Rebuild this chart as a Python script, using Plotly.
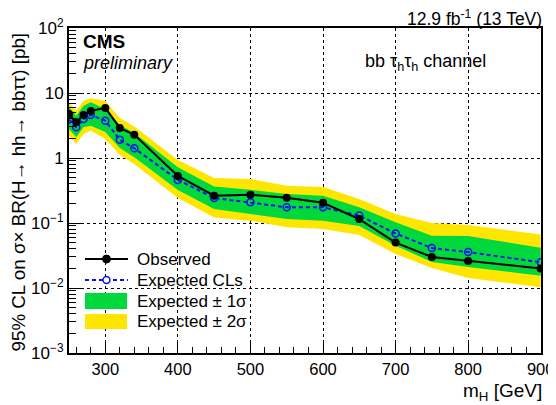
import plotly.graph_objects as go

# ---------------- data ----------------
mass = [250, 260, 270, 280, 300, 320, 340, 400, 450, 500, 550, 600, 650, 700, 750, 800, 900]
observed = [4.75, 3.54, 4.6, 5.3, 5.9, 2.9, 2.28, 0.53, 0.263, 0.273, 0.245, 0.205, 0.115,
            0.050, 0.030, 0.026, 0.020]
expected = [3.9, 2.97, 3.98, 4.59, 3.75, 1.91, 1.41, 0.46, 0.243, 0.208, 0.174, 0.174, 0.13,
            0.069, 0.0412, 0.0358, 0.0248]
exp_plus1 = [6.03, 4.48, 6.38, 7.19, 5.67, 3.22, 2.42, 0.72, 0.364, 0.325, 0.279, 0.263, 0.1745,
             0.1025, 0.0638, 0.0631, 0.0417]
exp_plus2 = [7.19, 5.34, 7.61, 8.28, 7.61, 4.12, 3.05, 0.93, 0.492, 0.475, 0.375, 0.358, 0.234,
             0.1375, 0.100, 0.0931, 0.0665]
exp_minus1 = [2.79, 2.08, 2.97, 3.14, 2.51, 1.43, 1.025, 0.322, 0.164, 0.1375, 0.115, 0.1084,
              0.0897, 0.0448, 0.0251, 0.021, 0.01546]
exp_minus2 = [2.20, 1.64, 2.34, 2.63, 1.96, 1.11, 0.81, 0.242, 0.1215, 0.1084, 0.0859, 0.0809,
              0.0654, 0.0334, 0.0203, 0.01425, 0.01025]

x_ticks = [300, 400, 500, 600, 700, 800, 900]
y_ticks = [1e-3, 1e-2, 1e-1, 1, 10, 100]
y_ticktext = ["10<sup>\u22123</sup>", "10<sup>\u22122</sup>", "10<sup>\u22121</sup>", "1", "10",
              "10<sup>2</sup>"]

legend_labels = ["Observed", "Expected CLs", "Expected \u00b1 1\u03c3", "Expected \u00b1 2\u03c3"]

GREEN = "#00d83c"
YELLOW = "#ffe600"
BLUE = "#1010f0"
FONT = "Liberation Sans"

fig = go.Figure()

# 2 sigma band
fig.add_trace(go.Scatter(x=mass + mass[::-1], y=exp_plus2 + exp_minus2[::-1], fill="toself",
                         fillcolor=YELLOW, line=dict(width=0), mode="lines",
                         hoverinfo="skip", showlegend=False))
# 1 sigma band
fig.add_trace(go.Scatter(x=mass + mass[::-1], y=exp_plus1 + exp_minus1[::-1], fill="toself",
                         fillcolor=GREEN, line=dict(width=0), mode="lines",
                         hoverinfo="skip", showlegend=False))
# expected
fig.add_trace(go.Scatter(x=mass, y=expected, mode="lines+markers",
                         line=dict(color=BLUE, width=2, dash="4px,3px"),
                         marker=dict(symbol="circle-open", size=7, color=BLUE,
                                     line=dict(width=1.5, color=BLUE)),
                         showlegend=False))
# observed
fig.add_trace(go.Scatter(x=mass, y=observed, mode="lines+markers",
                         line=dict(color="black", width=2),
                         marker=dict(symbol="circle", size=8, color="black"),
                         showlegend=False))

# minor tick positions
minor_x = [v for v in range(260, 900, 20) if v % 100 != 0]
minor_y = [m * 10 ** e for e in range(-3, 2) for m in range(2, 10)]

fig.update_xaxes(range=[250, 900.4], tickmode="array", tickvals=x_ticks, automargin=False,
                 ticklabeloverflow="allow",
                 ticks="inside", ticklen=11, tickwidth=1, tickcolor="black",
                 showline=True, linecolor="black", linewidth=2, mirror=True,
                 showgrid=True, gridcolor="black", gridwidth=1, griddash="dot",
                 zeroline=False,
                 tickfont=dict(family=FONT, size=16.5, color="black"),
                 minor=dict(tickmode="array", tickvals=minor_x, ticks="inside", ticklen=6,
                            tickcolor="black", showgrid=False))
fig.update_yaxes(type="log", range=[-3, 2], tickmode="array", tickvals=y_ticks,
                 ticktext=y_ticktext, automargin=False,
                 ticks="inside", ticklen=12, tickwidth=1, tickcolor="black",
                 showline=True, linecolor="black", linewidth=2, mirror=True,
                 showgrid=True, gridcolor="black", gridwidth=1, griddash="dot",
                 zeroline=False,
                 tickfont=dict(family=FONT, size=17, color="black"),
                 minor=dict(tickmode="array", tickvals=minor_y, ticks="inside", ticklen=7,
                            tickcolor="black", showgrid=False))

# the page body has an 8px margin; lay out the figure so the plot lands where the reference has it
OFF = 8
W, H = 556 - OFF, 405 - OFF
L, R, T, B = 69 - OFF, 15, 28 - OFF, 52
PW, PH = W - L - R, H - T - B


def px(xpage):
    return (xpage - OFF - L) / PW


def py(ypage):
    return (H - B - (ypage - OFF)) / PH


ann = []
ann.append(dict(text="<b>CMS</b>", x=px(81), y=py(41), xanchor="left", yanchor="middle",
                font=dict(family=FONT, size=19, color="black")))
ann.append(dict(text="<i>preliminary</i>", x=px(81), y=py(63), xanchor="left", yanchor="middle",
                font=dict(family=FONT, size=18, color="black")))
ann.append(dict(text="bb \u03c4<sub>h</sub>\u03c4<sub>h</sub> channel", x=px(363), y=py(62),
                xanchor="left", yanchor="middle",
                font=dict(family=FONT, size=18, color="black")))
ann.append(dict(text="12.9 fb<sup>-1</sup> (13 TeV)", x=px(544), y=py(18), xanchor="right",
                yanchor="middle", font=dict(family=FONT, size=17.5, color="black")))
ann.append(dict(text="m<sub>H</sub> [GeV]", x=px(544), y=py(392), xanchor="right",
                yanchor="middle", font=dict(family=FONT, size=19, color="black")))
ann.append(dict(text="95% CL on \u03c3\u00d7 BR(H\u2192 hh\u2192 bb\u03c4\u03c4) [pb]",
                x=px(18), y=py(31), xanchor="center", yanchor="top", textangle=-90,
                font=dict(family=FONT, size=18.8, color="black")))

# legend (manual, transparent, like ROOT TLegend)
rows = [259, 280, 301, 321.5]
for lab, r in zip(legend_labels, rows):
    ann.append(dict(text=lab, x=px(135), y=py(r), xanchor="left", yanchor="middle",
                    font=dict(family=FONT, size=17, color="black")))
for a in ann:
    a.update(xref="paper", yref="paper", showarrow=False)
fig.update_layout(annotations=ann)

shapes = []
# observed entry
shapes.append(dict(type="line", xref="paper", yref="paper", x0=px(85), x1=px(128),
                   y0=py(rows[0]), y1=py(rows[0]), line=dict(color="black", width=2)))
shapes.append(dict(type="circle", xref="paper", yref="paper", xsizemode="pixel",
                   ysizemode="pixel", xanchor=px(106.5), yanchor=py(rows[0]),
                   x0=-4, x1=4, y0=-4, y1=4, fillcolor="black", line=dict(color="black", width=1)))
# expected entry
shapes.append(dict(type="line", xref="paper", yref="paper", x0=px(85), x1=px(128),
                   y0=py(rows[1]), y1=py(rows[1]),
                   line=dict(color=BLUE, width=2, dash="4px,3px")))
shapes.append(dict(type="circle", xref="paper", yref="paper", xsizemode="pixel",
                   ysizemode="pixel", xanchor=px(106.5), yanchor=py(rows[1]),
                   x0=-3.5, x1=3.5, y0=-3.5, y1=3.5, fillcolor="white",
                   line=dict(color=BLUE, width=1.5)))
# band entries
shapes.append(dict(type="rect", xref="paper", yref="paper", x0=px(85), x1=px(127),
                   y0=py(309), y1=py(293), fillcolor=GREEN, line=dict(width=0)))
shapes.append(dict(type="rect", xref="paper", yref="paper", x0=px(85), x1=px(127),
                   y0=py(329), y1=py(314), fillcolor=YELLOW, line=dict(width=0)))
fig.update_layout(shapes=shapes)

fig.update_layout(width=W, height=H, margin=dict(l=L, r=R, t=T, b=B),
                  paper_bgcolor="white", plot_bgcolor="white",
                  font=dict(family=FONT, color="black"), showlegend=False)

fig.write_html("out.html")
